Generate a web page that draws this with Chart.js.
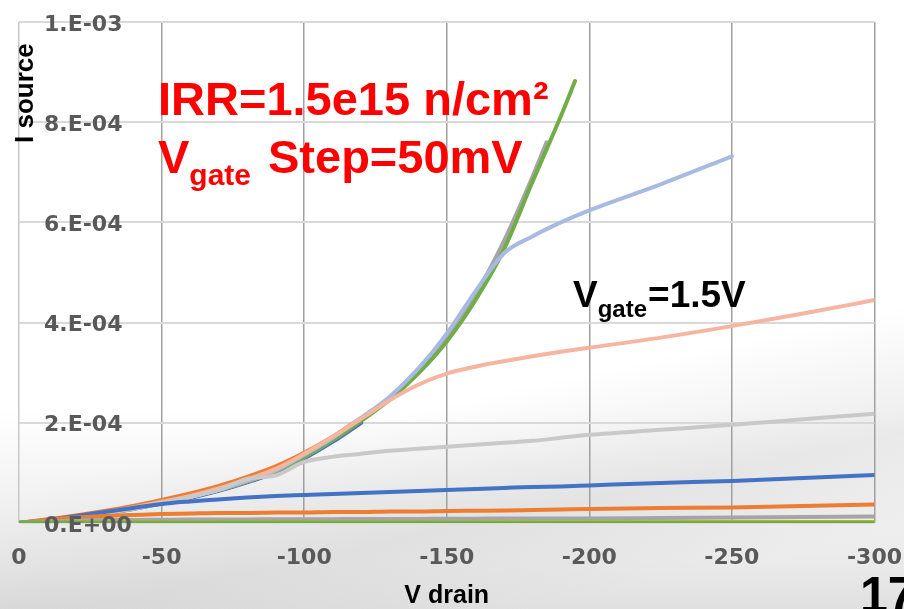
<!DOCTYPE html>
<html>
<head>
<meta charset="utf-8">
<script src="https://cdn.jsdelivr.net/npm/chart.js@4.4.1/dist/chart.umd.min.js"></script>
<style>
  html, body { margin: 0; padding: 0; }
  body {
    width: 904px; height: 609px; overflow: hidden; position: relative;
    background:
      linear-gradient(168deg, rgba(255,255,255,0) 62%, rgba(200,200,200,0.35) 78%, rgba(255,255,255,0) 90%),
      linear-gradient(to bottom, #ffffff 0px, #ffffff 410px, #f4f4f4 480px, #ebebeb 560px, #e0e0e0 609px);
  }
  canvas { position: absolute; left: 0; top: 0; }
</style>
</head>
<body>
<canvas id="c" width="904" height="609"></canvas>
<script>
// Drain voltage sweep (V); currents are in units of 1e-4 A.
const vDrain = [0, -10, -20, -30, -40, -50, -60, -70, -80, -90, -100, -110, -120, -130, -140, -150,
                -160, -170, -180, -190, -200, -225, -250, -275, -300];
const vGreenSteep = [0, -10, -20, -30, -40, -50, -60, -70, -80, -90, -100, -110, -120, -130, -140, -150,
                     -160, -170, -180, -190, -195];
const vGraySteep = [0, -10, -20, -30, -40, -50, -60, -70, -80, -90, -100, -110, -120, -130, -140, -150,
                    -160, -170, -180, -185];

// High gate voltages (no saturation within the sweep)
const greenSteep  = [0, 0.05, 0.12, 0.20, 0.29, 0.40, 0.52, 0.66, 0.83, 1.04, 1.32, 1.66, 2.04, 2.46, 2.98, 3.62, 4.44, 5.45, 6.80, 8.12, 8.82];
const graySteep   = [0, 0.05, 0.12, 0.20, 0.29, 0.40, 0.52, 0.66, 0.83, 1.04, 1.32, 1.66, 2.05, 2.48, 3.02, 3.68, 4.55, 5.62, 6.90, 7.60];
const yellowSteep = [0, 0.05, 0.12, 0.20, 0.29, 0.40, 0.52, 0.66, 0.83, 1.04, 1.32, 1.66, 2.05, 2.48, 3.01, 3.67, 4.52, 5.56, 6.84];
const blueSteep   = [0, 0.04, 0.11, 0.19, 0.28, 0.39, 0.50, 0.64, 0.81, 1.01, 1.29, 1.62, 2.00];
const orangeSteep = [0, 0.07, 0.15, 0.24, 0.34, 0.46, 0.59, 0.74, 0.92, 1.13, 1.40, 1.72, 2.10];

// Saturating curves
const lightBlue = [0, 0.05, 0.12, 0.20, 0.29, 0.40, 0.52, 0.66, 0.84, 1.05, 1.36, 1.70, 2.10, 2.52, 3.08, 3.78,
                   4.62, 5.38, 5.72, 6.00, 6.24, 6.76, 7.32];
const salmon    = [0, 0.05, 0.13, 0.21, 0.31, 0.42, 0.54, 0.69, 0.87, 1.08, 1.38, 1.72, 2.08, 2.45, 2.76, 2.98,
                   3.12, 3.23, 3.33, 3.42, 3.50, 3.70, 3.93, 4.18, 4.45];
const lightGray = [0, 0.05, 0.12, 0.20, 0.29, 0.40, 0.52, 0.66, 0.88, 0.95, 1.22, 1.32, 1.38, 1.44, 1.48, 1.52,
                   1.56, 1.60, 1.64, 1.70, 1.76, 1.86, 1.96, 2.07, 2.18];
const blueFlat  = [0, 0.06, 0.14, 0.22, 0.30, 0.38, 0.43, 0.47, 0.51, 0.54, 0.56, 0.58, 0.60, 0.62, 0.64, 0.66,
                   0.68, 0.70, 0.72, 0.73, 0.75, 0.80, 0.84, 0.90, 0.96];
const orangeFlat = [0, 0.07, 0.11, 0.14, 0.16, 0.18, 0.19, 0.20, 0.20, 0.21, 0.21, 0.22, 0.22, 0.23, 0.23, 0.24,
                    0.245, 0.25, 0.26, 0.27, 0.28, 0.30, 0.31, 0.34, 0.37];
const grayFlat   = [0, 0.03, 0.05, 0.06, 0.06, 0.065, 0.07, 0.07, 0.07, 0.075, 0.075, 0.075, 0.08, 0.08, 0.08, 0.085,
                    0.085, 0.09, 0.09, 0.09, 0.09, 0.10, 0.11, 0.12, 0.13];
const yellowFlat = [0, 0.01, 0.015, 0.02, 0.02, 0.02, 0.02, 0.02, 0.02, 0.02, 0.02, 0.02, 0.02, 0.02, 0.02, 0.02,
                    0.02, 0.025, 0.025, 0.025, 0.025, 0.025, 0.03, 0.03, 0.03];
const greenFlat  = [0, 0, 0, 0, 0, 0, 0, 0, 0, 0, 0, 0, 0, 0, 0, 0, 0, 0, 0, 0, 0, 0, 0, 0, 0];

const xTickValues = [0, -50, -100, -150, -200, -250, -300];
const xTickLabels = ['0', '-50', '-100', '-150', '-200', '-250', '-300'];
const yTickLabels = ['0.E+00', '2.E-04', '4.E-04', '6.E-04', '8.E-04', '1.E-03'];

function pts(xs, ys) { return ys.map((y, i) => ({ x: xs[i], y })); }

function line(data, color, width) {
  return {
    data, borderColor: color, backgroundColor: color, borderWidth: width || 4,
    pointRadius: 0, pointHoverRadius: 0, showLine: true, fill: false,
    cubicInterpolationMode: 'monotone', borderCapStyle: 'round', borderJoinStyle: 'round'
  };
}

// Listed bottom layer first; reversed below so the last one is painted on top.
const layers = [
  line(pts(vDrain, blueSteep), '#4472C4'),
  line(pts(vDrain, orangeSteep), '#ED7D31'),
  line(pts(vDrain, yellowSteep), '#FFC000'),
  line(pts(vGraySteep, graySteep), '#A5A5A5'),
  line(pts(vGreenSteep, greenSteep), '#70AD47'),
  line(pts(vDrain, lightBlue), '#A8BAE2'),
  line(pts(vDrain, salmon), '#F5B5A0'),
  line(pts(vDrain, lightGray), '#C9C9C9'),
  line(pts(vDrain, blueFlat), '#4472C4'),
  line(pts(vDrain, orangeFlat), '#ED7D31'),
  line(pts(vDrain, grayFlat), '#A5A5A5'),
  line(pts(vDrain, yellowFlat), '#FFC000', 3),
  line(pts(vDrain, greenFlat), '#70AD47', 5)
];

const overlay = {
  id: 'overlay',
  afterDatasetsDraw(chart) {
    const { ctx, chartArea, scales: { y } } = chart;
    ctx.save();
    // y tick labels sit inside the plot area
    ctx.font = 'bold 22px "DejaVu Sans"';
    ctx.fillStyle = '#595959';
    ctx.textAlign = 'left';
    ctx.textBaseline = 'alphabetic';
    y.ticks.forEach((t, i) => {
      ctx.fillText(yTickLabels[i], chartArea.left + 25, y.getPixelForValue(t.value) + 8.5);
    });

    // y axis title, rotated, near the top
    ctx.fillStyle = '#000000';
    ctx.font = 'bold 26px "Liberation Sans"';
    ctx.save();
    ctx.translate(33, 143);
    ctx.rotate(-Math.PI / 2);
    ctx.fillText('I source', 0, 0);
    ctx.restore();

    // red annotation
    ctx.fillStyle = '#FF0000';
    ctx.font = 'bold 47px "Liberation Sans"';
    ctx.fillText('IRR=1.5e15 n/cm\u00B2', 158, 115);
    ctx.fillText('V', 158, 173);
    let w = ctx.measureText('V').width;
    ctx.font = 'bold 30px "Liberation Sans"';
    ctx.fillText('gate', 158 + w, 185);
    ctx.font = 'bold 47px "Liberation Sans"';
    ctx.fillText('Step=50mV', 268, 173);

    // black annotation
    ctx.fillStyle = '#000000';
    ctx.font = 'bold 37px "Liberation Sans"';
    ctx.fillText('V', 573, 307);
    w = ctx.measureText('V').width;
    ctx.font = 'bold 24px "Liberation Sans"';
    ctx.fillText('gate', 573 + w, 317);
    const wg = ctx.measureText('gate').width;
    ctx.font = 'bold 37px "Liberation Sans"';
    ctx.fillText('=1.5V', 573 + w + wg + 1, 307);

    // page number
    ctx.font = 'bold 50px "Liberation Sans"';
    ctx.fillText('17', 860, 612);
    ctx.restore();
  }
};

new Chart(document.getElementById('c'), {
  type: 'scatter',
  data: { datasets: layers.slice().reverse() },
  options: {
    responsive: false,
    animation: false,
    devicePixelRatio: 1,
    layout: { padding: { left: 19, top: 22, right: 0, bottom: 0 } },
    plugins: { legend: { display: false }, tooltip: { enabled: false } },
    scales: {
      x: {
        type: 'linear', reverse: true, min: -300, max: 0,
        border: { display: false },
        grid: {
          drawTicks: false,
          lineWidth: 1.5,
          color: c => (c.tick && c.tick.value === 0) ? '#C8C8C8' : '#A0A0A0'
        },
        ticks: {
          stepSize: 50, maxRotation: 0, autoSkip: false, padding: 2,
          color: '#595959',
          font: { family: '"DejaVu Sans"', size: 22, weight: 'bold', lineHeight: 3 },
          callback: v => xTickLabels[xTickValues.indexOf(v)]
        },
        title: {
          display: true, text: 'V drain', color: '#000000',
          font: { family: '"Liberation Sans"', size: 25, weight: 'bold', lineHeight: 1 },
          padding: { top: -9, bottom: 0 }
        }
      },
      y: {
        type: 'linear', min: 0, max: 10,
        border: { display: false },
        grid: { drawTicks: false, lineWidth: 2, color: '#D9D9D9' },
        ticks: { stepSize: 2, display: false }
      }
    }
  },
  plugins: [overlay]
});
</script>
</body>
</html>
